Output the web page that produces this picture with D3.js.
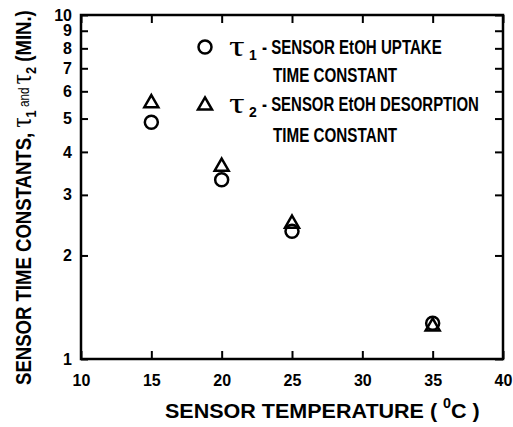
<!DOCTYPE html>
<html>
<head>
<meta charset="utf-8">
<script src="https://cdn.jsdelivr.net/npm/d3@7"></script>
<style>
  body { margin: 0; background: #fff; }
  svg text { fill: #000; }
</style>
</head>
<body>
<svg id="chart" width="513" height="427"></svg>
<script>
// data
var temps = [15, 20, 25, 35];
var tau1 = [4.88, 3.32, 2.35, 1.27];   // uptake (circles)
var tau2 = [5.6, 3.66, 2.5, 1.255];    // desorption (triangles)
var xTicks = [10, 15, 20, 25, 30, 35, 40];
var yTicks = [1, 2, 3, 4, 5, 6, 7, 8, 9, 10];
var legendRows = [
  { sub: "1", line1: "- SENSOR EtOH UPTAKE", w1: 180, line2: "TIME CONSTANT", shape: "circle" },
  { sub: "2", line1: "- SENSOR EtOH DESORPTION", w1: 217, line2: "TIME CONSTANT", shape: "triangle" }
];

var FONT = "'Liberation Sans', Arial, sans-serif";
var SERIF = "'Liberation Serif', 'DejaVu Serif', serif";

var margin = { left: 81, right: 10, top: 15, bottom: 68 };
var W = 513, H = 427;
var svg = d3.select("#chart");

var x = d3.scaleLinear().domain([10, 40]).range([margin.left, W - margin.right]);
var y = d3.scaleLog().domain([1, 10]).range([H - margin.bottom, margin.top]);

var g = svg.append("g");

// squeeze a text horizontally (in its own frame) so it spans `width`
function fit(sel, tx, ty, width, rot) {
  var w = sel.node().getComputedTextLength();
  var s = width / w;
  sel.attr("transform", "translate(" + tx + "," + ty + ")" + (rot ? " rotate(" + rot + ")" : "") + " scale(" + s + ",1)");
}

// ticks, all pointing inwards
function tickStyle(sel) {
  sel.select(".domain").remove();
  sel.selectAll(".tick line").attr("stroke", "#000").attr("stroke-width", 2);
  sel.selectAll(".tick text").attr("font-family", FONT).attr("font-weight", "bold")
    .attr("font-size", 16).attr("fill", "#000");
}

g.append("g").attr("transform", "translate(0," + y(1) + ")")
  .call(d3.axisBottom(x).tickValues(xTicks).tickSize(-8).tickPadding(16).tickFormat(d3.format("d")))
  .call(tickStyle);
g.append("g").attr("transform", "translate(0," + y(10) + ")")
  .call(d3.axisTop(x).tickValues(xTicks).tickSize(-8).tickFormat(""))
  .call(tickStyle);
g.append("g").attr("transform", "translate(" + x(10) + ",0)")
  .call(d3.axisLeft(y).tickValues(yTicks).tickSize(-7).tickPadding(9).tickFormat(d3.format("d")))
  .call(tickStyle);
g.append("g").attr("transform", "translate(" + x(40) + ",0)")
  .call(d3.axisRight(y).tickValues(yTicks).tickSize(-8).tickFormat(""))
  .call(tickStyle);

// frame
g.append("rect")
  .attr("x", x(10)).attr("y", y(10))
  .attr("width", x(40) - x(10)).attr("height", y(1) - y(10))
  .attr("fill", "none").attr("stroke", "#000").attr("stroke-width", 2.5);

var circleR = 6.5;
var tri = d3.symbol().type(d3.symbolTriangle).size(85);

function drawCircle(sel, cx, cy) {
  sel.append("circle").attr("cx", cx).attr("cy", cy).attr("r", circleR)
    .attr("fill", "none").attr("stroke", "#000").attr("stroke-width", 2.5);
}
function drawTriangle(sel, cx, cy) {
  sel.append("path").attr("d", tri).attr("transform", "translate(" + cx + "," + (cy + 1.5) + ")")
    .attr("fill", "none").attr("stroke", "#000").attr("stroke-width", 2.5).attr("stroke-linejoin", "miter");
}

var pts = g.append("g");
temps.forEach(function(t, i) {
  drawCircle(pts, x(t), y(tau1[i]));
  drawTriangle(pts, x(t), y(tau2[i]));
});

// legend
var leg = g.append("g");
legendRows.forEach(function(r, i) {
  var cy = 47 + i * 57;
  if (r.shape === "circle") drawCircle(leg, 205, cy); else drawTriangle(leg, 205, cy);
  leg.append("text").attr("transform", "translate(229," + (cy + 9) + ") scale(1.3,1)")
    .attr("font-family", SERIF).attr("font-size", 30).text("\u03c4");
  leg.append("text").attr("x", 249).attr("y", cy + 13)
    .attr("font-family", FONT).attr("font-weight", "bold").attr("font-size", 14).text(r.sub);
  var l1 = leg.append("text").attr("font-family", FONT).attr("font-weight", "bold").attr("font-size", 21).text(r.line1);
  fit(l1, 262, cy + 7, r.w1);
  var l2 = leg.append("text").attr("font-family", FONT).attr("font-weight", "bold").attr("font-size", 21).text(r.line2);
  fit(l2, 273, cy + 35 + i * 3, 124);
});

// x title
var xt = svg.append("text").attr("font-family", FONT).attr("font-weight", "bold").attr("font-size", 21);
xt.append("tspan").text("SENSOR TEMPERATURE   ( ");
xt.append("tspan").attr("font-size", 14).attr("dy", -10).text("0");
xt.append("tspan").attr("dy", 10).text("C )");
fit(xt, 165, 418, 315);

// y title
var yt = svg.append("text").attr("font-family", FONT).attr("font-weight", "bold").attr("font-size", 22);
yt.append("tspan").text("SENSOR TIME CONSTANTS, ");
yt.append("tspan").attr("font-family", SERIF).attr("font-weight", "normal").attr("font-size", 30).text("\u03c4");
yt.append("tspan").attr("font-size", 15).attr("dy", 5).text("1");
yt.append("tspan").attr("font-size", 14).attr("font-weight", "normal").attr("dy", -7).text(" and ");
yt.append("tspan").attr("font-family", SERIF).attr("font-weight", "normal").attr("font-size", 30).attr("dy", 2).text("\u03c4");
yt.append("tspan").attr("font-size", 15).attr("dy", 5).text("2");
yt.append("tspan").attr("dy", -5).text(" (MIN.)");
fit(yt, 31, 385, 375, -90);
</script>
</body>
</html>
